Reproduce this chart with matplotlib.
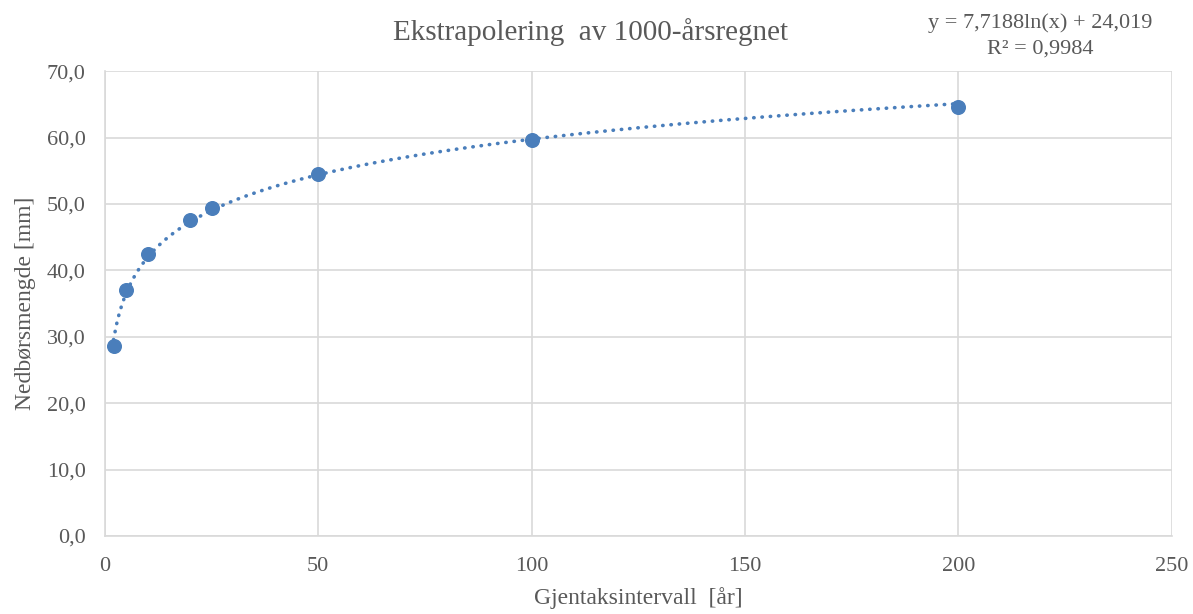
import numpy as np
import matplotlib
matplotlib.use('Agg')
import matplotlib.pyplot as plt
from matplotlib.ticker import FuncFormatter

# data
return_period = [2, 5, 10, 20, 25, 50, 100, 200]
precip_mm = [28.6, 37.0, 42.5, 47.6, 49.4, 54.5, 59.6, 64.6]
eq_text = 'y = 7,7188ln(x) + 24,019\nR² = 0,9984'

plt.rcParams['font.family'] = ['Liberation Serif', 'DejaVu Serif']
txt_col = '#595959'
grid_col = '#d9d9d9'
blue = '#4a7ebb'

fig = plt.figure(figsize=(11.93, 6.14), dpi=100)
ax = fig.add_axes([0.088, 0.127, 0.894, 0.757])

# log trendline fitted to the points
x = np.array(return_period, dtype=float)
b, a = np.polyfit(np.log(x), precip_mm, 1)
xs = np.linspace(x.min(), x.max(), 300)
ax.plot(xs, b * np.log(xs) + a, color=blue, lw=2.6, ls=(0, (0.1, 2.2)),
        dash_capstyle='round', zorder=2)
ax.plot(return_period, precip_mm, 'o', color=blue, ms=9.8, zorder=3)

ax.set_xlim(0, 250)
ax.set_ylim(0, 70)
ax.set_xticks(range(0, 251, 50))
ax.set_yticks(range(0, 71, 10))
ax.yaxis.set_major_formatter(FuncFormatter(lambda v, p: f'{v:.1f}'.replace('.', ',')))
ax.grid(True, color=grid_col, lw=1.2)
ax.set_axisbelow(True)
for s in ['top', 'right']:
    ax.spines[s].set_visible(False)
for s in ['left', 'bottom']:
    ax.spines[s].set_color(grid_col)
    ax.spines[s].set_linewidth(1.2)
ax.tick_params(axis='x', length=0, labelsize=16, labelcolor=txt_col, pad=15)
ax.tick_params(axis='y', length=0, labelsize=16, labelcolor=txt_col, pad=14)

ax.set_xlabel('Gjentaksintervall  [år]', fontsize=17, color=txt_col, labelpad=8)
ax.set_ylabel('Nedbørsmengde [mm]', fontsize=17, color=txt_col, labelpad=8)
fig.text(0.495, 0.948, 'Ekstrapolering  av 1000-årsregnet', fontsize=21,
         color=txt_col, ha='center', va='center')
fig.text(0.872, 0.942, eq_text, fontsize=16, color=txt_col, ha='center',
         va='center', linespacing=1.45)

fig.savefig('out.png', dpi=100)
